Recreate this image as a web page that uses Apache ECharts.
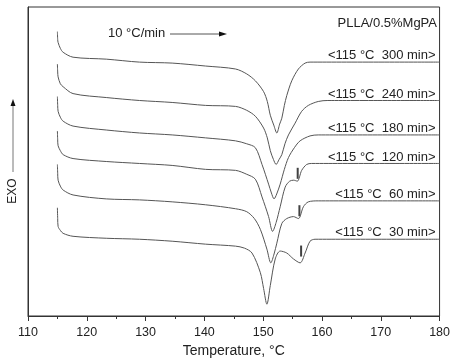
<!DOCTYPE html>
<html>
<head>
<meta charset="utf-8">
<script src="https://cdn.jsdelivr.net/npm/echarts@6/dist/echarts.min.js"></script>
<style>
  html, body { margin: 0; padding: 0; background: #fff; }
  #chart { width: 453px; height: 363px; }
</style>
</head>
<body>
<div id="chart"></div>
<script>
// DSC heating scans, heat flow in arbitrary units (EXO up)
const labels = ['<115 °C  300 min>', '<115 °C  240 min>', '<115 °C  180 min>', '<115 °C  120 min>', '<115 °C  60 min>', '<115 °C  30 min>']

const t300 = [115.0, 115.05, 115.12, 115.5, 115.97, 117.66, 123.31, 128.94, 134.52, 140.22, 145.29, 147.2, 148.67, 150.07, 150.7, 151.21, 151.8, 152.32, 152.8, 153.17, 153.6, 154.01, 154.86, 155.99, 157.13, 157.97, 180]
const hf300 = [289, 281, 278, 272, 268, 263, 261, 258, 257, 254, 251, 246, 239, 228, 218, 204, 194, 186, 195, 201, 214, 224, 239, 251, 257, 258, 258]

const t240 = [115.0, 115.05, 115.12, 115.5, 115.97, 117.66, 123.31, 128.94, 134.52, 140.22, 145.29, 147.2, 148.67, 150.07, 150.7, 151.21, 151.75, 152.2, 152.7, 153.17, 153.7, 154.3, 155.43, 156.55, 157.68, 159.37, 161, 180]
const hf240 = [256, 248, 243, 236, 233, 226, 222, 219, 217, 214, 213, 209, 203, 191, 181, 168, 159, 154, 159, 164, 175, 184, 196, 208, 214, 218, 219, 219]

const t180 = [115.0, 115.05, 115.12, 115.5, 115.97, 117.66, 123.31, 128.94, 134.52, 140.22, 145.29, 147.2, 148.67, 149.8, 150.92, 151.4, 151.85, 152.3, 152.89, 153.6, 154.3, 155.3, 156.28, 157.97, 159.37, 180]
const hf180 = [223, 214, 208, 202, 198, 193, 189, 186, 184, 181, 178, 175, 171, 154, 134, 125, 119, 124, 134, 149, 161, 171, 178, 183, 184, 184]

const t120 = [115.0, 115.05, 115.12, 115.5, 115.97, 117.66, 123.31, 128.94, 134.52, 140.22, 145.29, 147.2, 148.67, 149.8, 150.92, 151.6, 152.2, 152.89, 153.74, 154.5, 155.2, 155.8, 156.55, 157.4, 158.24, 180]
const hf120 = [188, 179, 173, 168, 164, 160, 157, 155, 153, 149, 148, 144, 139, 121, 101, 86, 95, 111, 131, 137, 138, 137, 148, 154, 155, 155]

const t60 = [115.0, 115.05, 115.12, 115.5, 115.97, 117.66, 123.31, 128.94, 134.52, 140.22, 145.29, 147.2, 148.5, 149.52, 150.63, 151.3, 151.85, 152.32, 153.17, 154.01, 155.15, 155.99, 156.84, 157.68, 159.37, 180]
const hf60 = [154, 145, 138, 132, 128, 123, 119, 118, 116, 113, 109, 106, 99, 88, 68, 54, 63, 74, 94, 99, 101, 99, 111, 116, 117, 117]

const t30 = [115.0, 115.05, 115.12, 115.5, 115.97, 117.66, 123.31, 128.94, 134.52, 140.22, 145.29, 146.8, 148.1, 149.52, 150.07, 150.63, 151.21, 152.05, 152.89, 154.01, 155.15, 156.28, 157.13, 157.97, 158.82, 180]
const hf30 = [110, 99, 91, 87, 84, 81, 79, 78, 76, 73, 71, 69, 64, 44, 28, 12, 31, 58, 66, 64, 58, 54, 64, 76, 78, 78]

// small melting-shoulder marks
const markT = [155.87, 156.16, 156.45]
const markHf = [145, 107, 66]

const curves = [[t300, hf300], [t240, hf240], [t180, hf180], [t120, hf120], [t60, hf60], [t30, hf30]]

const font = 'Arial, "Liberation Sans", sans-serif'
const chart = echarts.init(document.getElementById('chart'))

const series = curves.map(([t, hf], i) => ({
  type: 'line',
  data: t.map((x, j) => [x, hf[j]]),
  smooth: 0.3,
  symbol: 'none',
  silent: true,
  lineStyle: { color: '#555', width: 1 },
  markPoint: {
    symbolSize: 0,
    silent: true,
    data: [{ coord: [180, hf[hf.length - 1]] }],
    label: {
      show: true,
      position: 'left',
      distance: 4,
      offset: [0, -6.5],
      formatter: labels[i],
      color: '#222',
      fontSize: 13,
      fontFamily: font,
    },
  },
}))

series.push({
  type: 'scatter',
  data: markT.map((x, j) => [x, markHf[j]]),
  symbol: 'rect',
  symbolSize: [2, 11],
  silent: true,
  itemStyle: { color: '#111' },
})

chart.setOption({
  animation: false,
  grid: { left: 28, right: 12, top: 7, bottom: 42, show: true, borderColor: '#333', borderWidth: 1 },
  xAxis: {
    type: 'value',
    min: 110,
    max: 180,
    interval: 10,
    name: 'Temperature, °C',
    nameLocation: 'middle',
    nameGap: 28,
    nameTextStyle: { color: '#222', fontSize: 14, fontFamily: font },
    axisLine: { lineStyle: { color: '#333' } },
    axisTick: { length: 5, lineStyle: { color: '#333' } },
    minorTick: { show: true, splitNumber: 2, length: 3, lineStyle: { color: '#333' } },
    axisLabel: { color: '#222', fontSize: 12.5, fontFamily: font, margin: 10 },
    splitLine: { show: false },
  },
  yAxis: {
    type: 'value',
    min: 0,
    max: 314,
    axisLine: { show: true, lineStyle: { color: '#333' } },
    axisTick: { show: false },
    axisLabel: { show: false },
    splitLine: { show: false },
  },
  graphic: [
    { type: 'text', right: 16, top: 17, style: { text: 'PLLA/0.5%MgPA', fill: '#222', font: '13px ' + font } },
    { type: 'text', left: 108, top: 27, style: { text: '10 °C/min', fill: '#222', font: '13px ' + font } },
    { type: 'line', shape: { x1: 170, y1: 34, x2: 221, y2: 34 }, style: { stroke: '#555', lineWidth: 1 } },
    { type: 'polygon', shape: { points: [[219, 31.5], [227, 34], [219, 36.5]] }, style: { fill: '#111' } },
    { type: 'line', shape: { x1: 13, y1: 172, x2: 13, y2: 104 }, style: { stroke: '#777', lineWidth: 1 } },
    { type: 'polygon', shape: { points: [[10.5, 106], [13, 99], [15.5, 106]] }, style: { fill: '#111' } },
    { type: 'text', x: 13, y: 191, rotation: Math.PI / 2, style: { text: 'EXO', fill: '#222', font: '12px ' + font, align: 'center', verticalAlign: 'middle' } },
  ],
  series,
})
</script>
</body>
</html>
